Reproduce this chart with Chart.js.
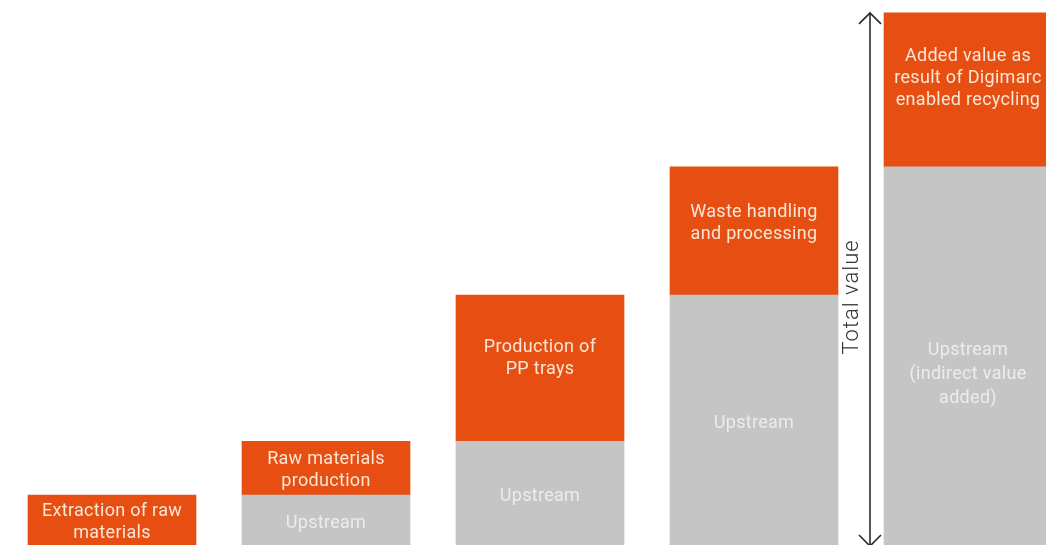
<!DOCTYPE html>
<html>
<head>
<meta charset="utf-8">
<script src="https://cdn.jsdelivr.net/npm/chart.js@4/dist/chart.umd.min.js"></script>
<style>
  html, body { margin: 0; padding: 0; background: #fff; overflow: hidden; }
  #wrap { width: 1130px; height: 575px; }
</style>
</head>
<body>
<div id="wrap"><canvas id="valueChart" width="1130" height="575"></canvas></div>
<script>
// Stage names (drawn inside the orange part of each bar)
const stageLabels = [
    ['Extraction of raw', 'materials'],
    ['Raw materials', 'production'],
    ['Production of', 'PP trays'],
    ['Waste handling', 'and processing'],
    ['Added value as', 'result of Digimarc', 'enabled recycling']
];
// Labels for the grey part
const upstreamLabels = [
    [],
    ['Upstream'],
    ['Upstream'],
    ['Upstream'],
    ['Upstream', '(indirect value', 'added)']
];
// Values (relative units)
const upstreamValues = [0, 11.6, 21.2, 47.3, 70.2];
const stageValues = [11.6, 9.6, 26.1, 22.9, 27.5];
const axisMax = 100;

const ORANGE = '#E64E12';
const GREY = '#C5C5C5';
const VISIBLE_BOTTOM = 545;

const barLabels = {
    id: 'barLabels',
    afterDatasetsDraw(chart) {
        const ctx = chart.ctx;
        ctx.save();
        ctx.font = '400 18px Roboto';
        ctx.textAlign = 'center';
        ctx.textBaseline = 'middle';
        ctx.letterSpacing = '0.3px';

        const drawBlock = (lines, x, cy, color, lh) => {
            ctx.fillStyle = color;
            const start = cy - (lines.length - 1) * lh / 2;
            lines.forEach((l, i) => ctx.fillText(l, x, start + i * lh));
        };

        // grey (upstream) labels - centred in the visible part
        const greyMeta = chart.getDatasetMeta(0);
        greyMeta.data.forEach((bar, i) => {
            const p = bar.getProps(['x', 'y', 'base'], true);
            const bottom = Math.min(p.base, VISIBLE_BOTTOM);
            const lines = upstreamLabels[i];
            const cy = (p.y + bottom) / 2 + 3 + Math.max(0, lines.length - 1) * 8;
            drawBlock(lines, p.x, cy, '#ECECEC', 24);
        });

        // orange labels - raised a bit in the taller blocks
        const orangeMeta = chart.getDatasetMeta(1);
        orangeMeta.data.forEach((bar, i) => {
            const p = bar.getProps(['x', 'y', 'base'], true);
            const bottom = Math.min(p.base, VISIBLE_BOTTOM);
            const h = bottom - p.y;
            const cy = (p.y + bottom) / 2 - Math.max(0, h - 54) * 0.13 + 2;
            drawBlock(stageLabels[i], p.x, cy, '#FCE6D6', 22);
        });
        ctx.restore();
    }
};

const totalArrow = {
    id: 'totalArrow',
    afterDraw(chart) {
        const ctx = chart.ctx;
        const yScale = chart.scales.y;
        const last = chart.getDatasetMeta(1).data[stageValues.length - 1];
        const p = last.getProps(['x', 'y', 'width'], true);
        const x = p.x - p.width / 2 - 14;
        const top = p.y;
        const bottom = yScale.getPixelForValue(0) - 14;

        ctx.save();
        ctx.strokeStyle = '#2b2b2b';
        ctx.lineWidth = 1.6;
        ctx.beginPath();
        ctx.moveTo(x, top + 1);
        ctx.lineTo(x, bottom - 1);
        // arrow heads
        ctx.moveTo(x - 11, top + 11);
        ctx.lineTo(x, top);
        ctx.lineTo(x + 11, top + 11);
        ctx.moveTo(x - 11, bottom - 11);
        ctx.lineTo(x, bottom);
        ctx.lineTo(x + 11, bottom - 11);
        ctx.stroke();

        ctx.translate(x - 18, 297);
        ctx.rotate(-Math.PI / 2);
        ctx.fillStyle = '#333';
        ctx.font = '300 22px Roboto';
        ctx.letterSpacing = '1px';
        ctx.textAlign = 'center';
        ctx.textBaseline = 'middle';
        ctx.fillText('Total value', 0, 0);
        ctx.restore();
    }
};

document.addEventListener('DOMContentLoaded', function() {
    const ctx = document.getElementById('valueChart').getContext('2d');
    new Chart(ctx, {
        type: 'bar',
        data: {
            labels: stageLabels.map(l => l.join(' ')),
            datasets: [
                {
                    label: 'Upstream',
                    data: upstreamValues,
                    backgroundColor: GREY,
                    borderWidth: 0,
                    barThickness: 168
                },
                {
                    label: 'Stage value',
                    data: stageValues,
                    backgroundColor: ORANGE,
                    borderWidth: 0,
                    barThickness: 168
                }
            ]
        },
        options: {
            responsive: false,
            animation: false,
            devicePixelRatio: 1,
            layout: {
                padding: { left: 5, right: 55, top: 0, bottom: 15 }
            },
            plugins: {
                legend: { display: false },
                tooltip: { enabled: false }
            },
            scales: {
                x: { stacked: true, display: false, grid: { display: false } },
                y: { stacked: true, display: false, min: 0, max: axisMax }
            }
        },
        plugins: [barLabels, totalArrow]
    });
});
</script>
</body>
</html>
